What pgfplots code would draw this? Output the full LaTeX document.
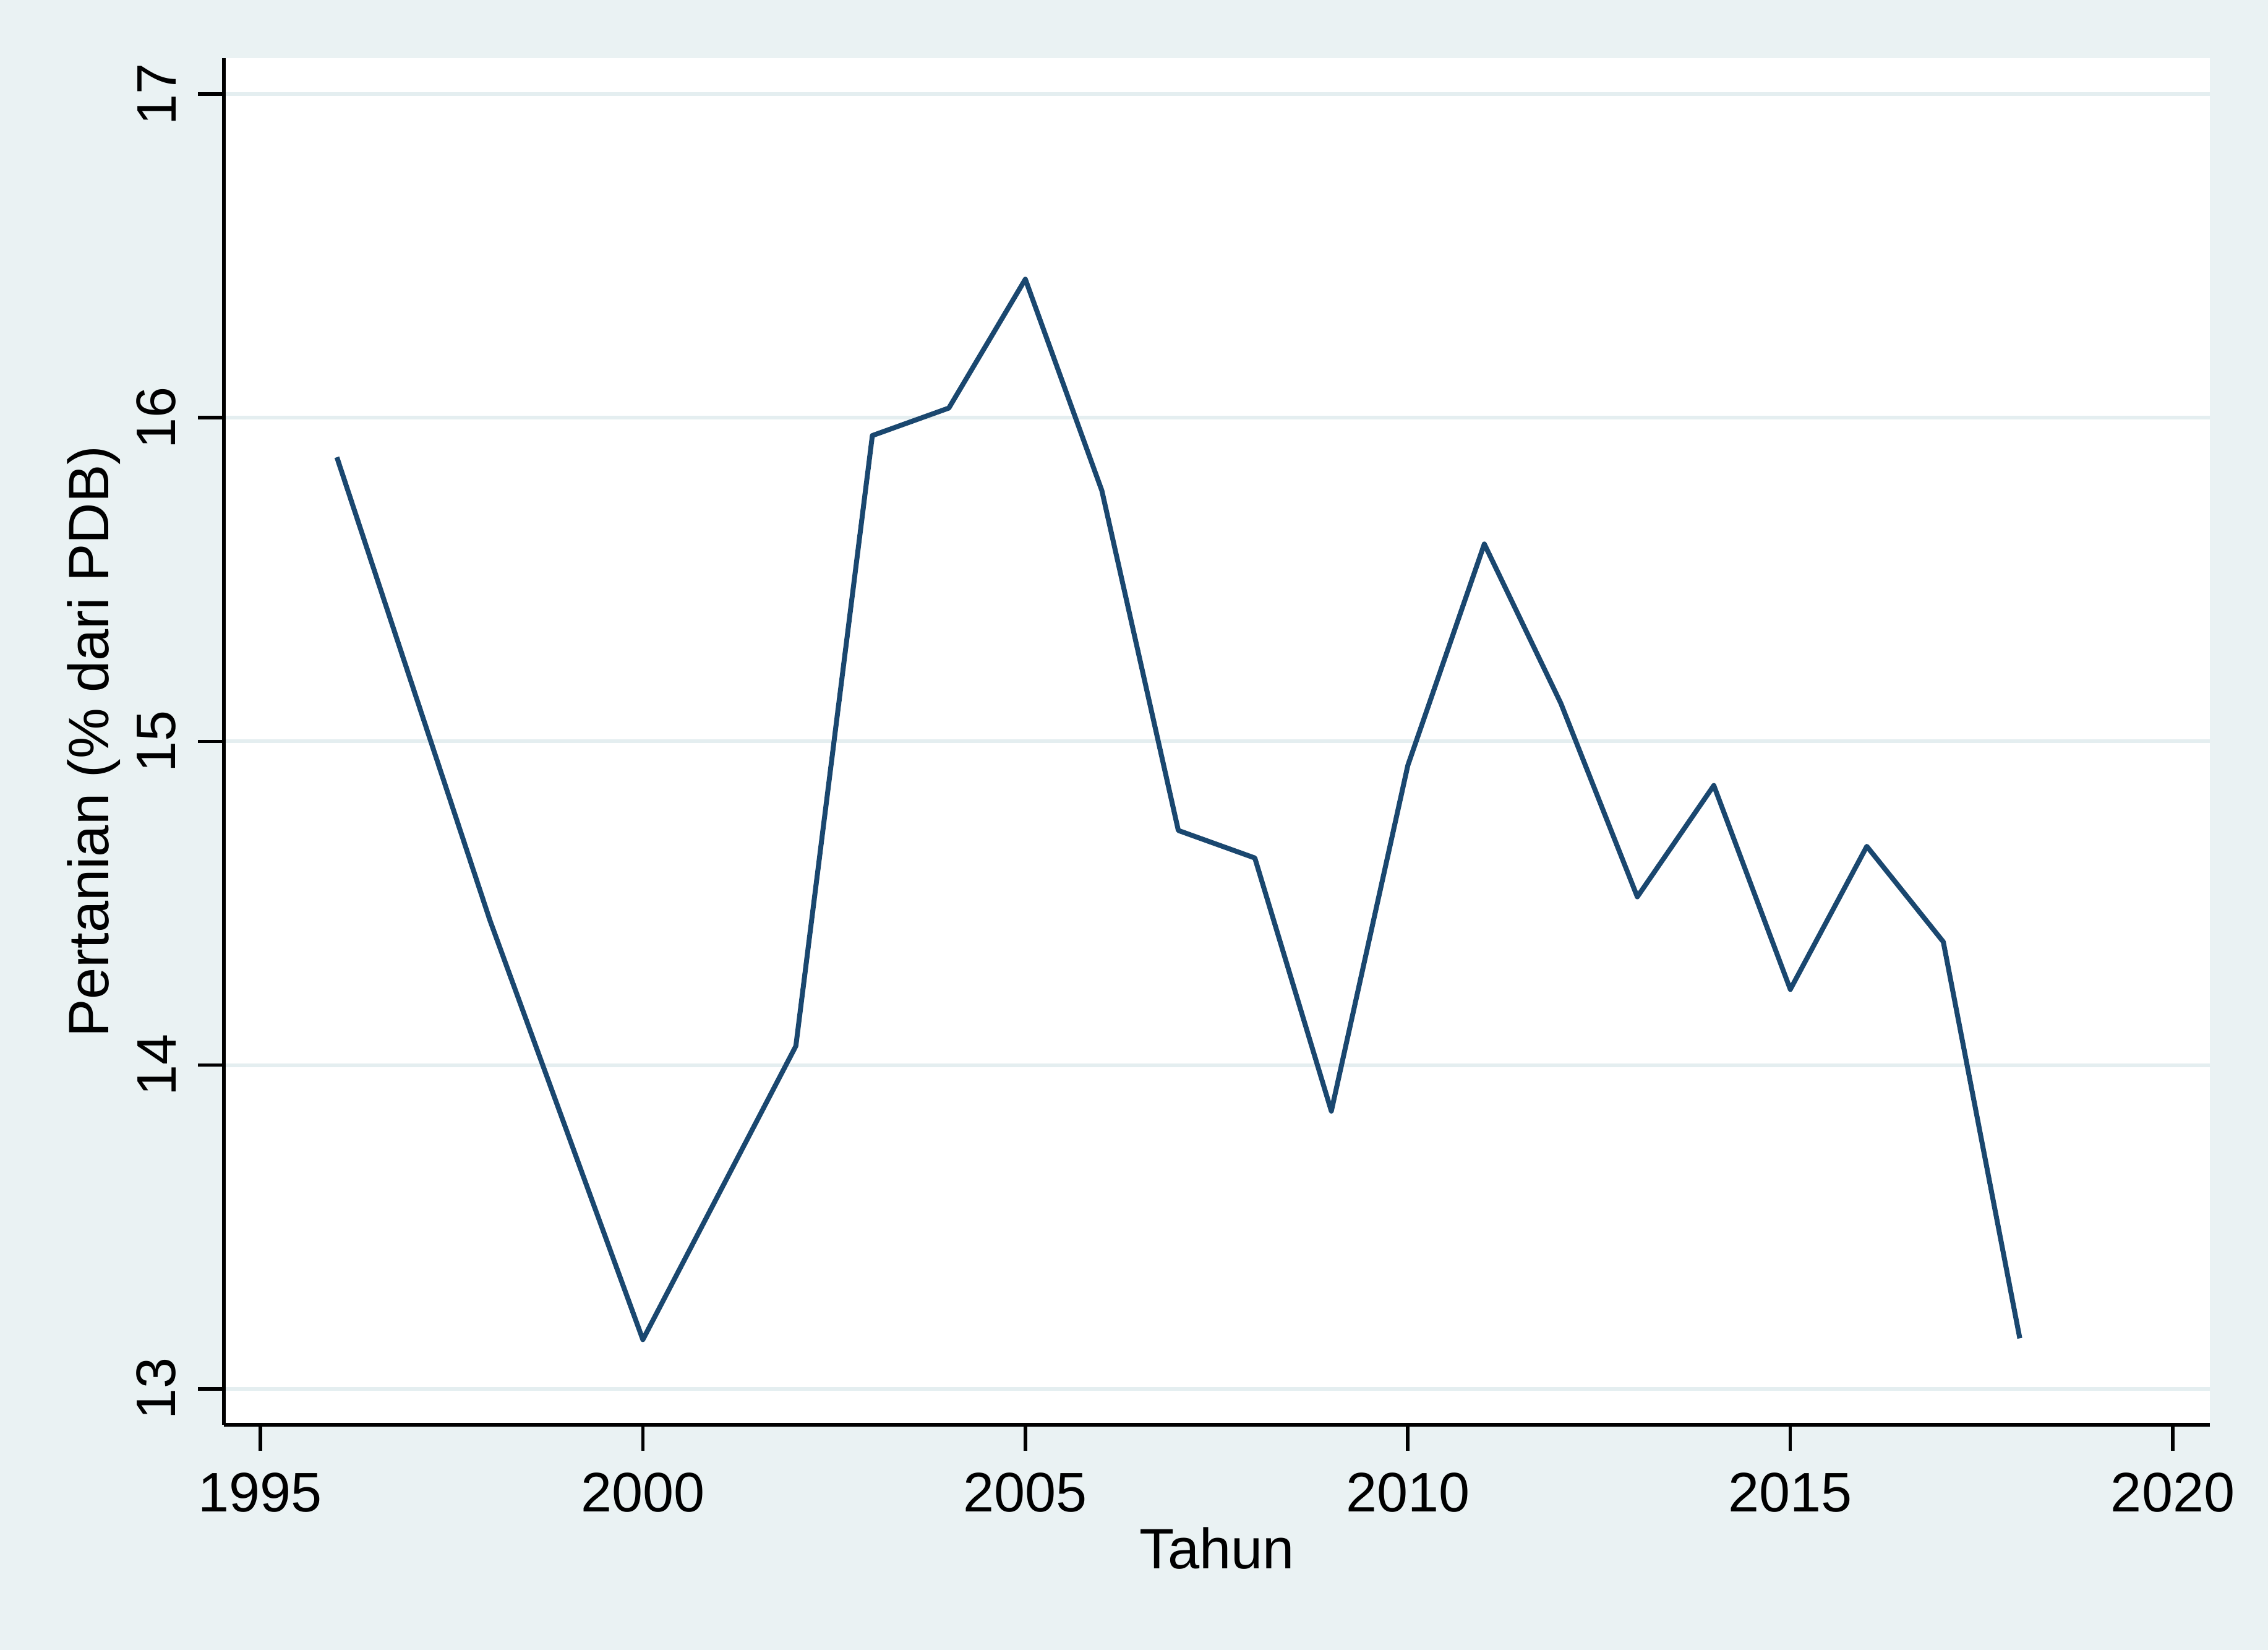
\documentclass[border=0pt]{standalone}
\usepackage{pgfplots}
\pgfplotsset{compat=1.18}
\usepackage{fontspec}
\setmainfont{Liberation Sans}
\definecolor{bg}{RGB}{234,242,243}
\definecolor{grid}{RGB}{228,238,240}
\definecolor{navy}{RGB}{26,71,111}
\begin{document}
\begin{tikzpicture}
\fill[bg] (-36.2pt,-36.4pt) rectangle (330.5pt,230.3pt);
\begin{axis}[at={(0,0)}, anchor=south west, scale only axis,
  width=321.1pt, height=220.9pt,
  xmin=1994.523, xmax=2020.485, ymin=12.889, ymax=17.111,
  axis lines=left, axis line style={-, line width=0.55pt, black},
  axis background/.style={fill=white},
  xtick={1995,2000,2005,2010,2015,2020}, ytick={13,14,15,16,17},
  tick align=outside, major tick length=4.2pt,
  tick style={black, line width=0.55pt},
  ymajorgrids, grid style={color=grid, line width=0.6pt},
  tick label style={font=\fontsize{9}{11}\selectfont},
  /pgf/number format/assume math mode=true,
  /pgf/number format/1000 sep={},
  yticklabel style={rotate=90, anchor=south},
  every axis x label/.style={at={(axis description cs:0.5,0)}, yshift=-20pt, anchor=center, font=\fontsize{9.2}{11}\selectfont},
  every axis y label/.style={at={(axis description cs:0,0.5)}, xshift=-21pt, rotate=90, anchor=center, font=\fontsize{9.2}{11}\selectfont},
  xlabel={Tahun}, ylabel={Pertanian (\% dari PDB)},
]
\addplot[navy, line width=0.8pt, mark=none, line join=round] coordinates {
(1996,15.878) (1998,14.448) (2000,13.152) (2002,14.059) (2003,15.945)
(2004,16.030) (2005,16.428) (2006,15.775) (2007,14.725) (2008,14.640)
(2009,13.858) (2010,14.926) (2011,15.610) (2012,15.118) (2013,14.520)
(2014,14.864) (2015,14.234) (2016,14.676) (2017,14.381) (2018,13.156)
};
\end{axis}
\end{tikzpicture}
\end{document}
